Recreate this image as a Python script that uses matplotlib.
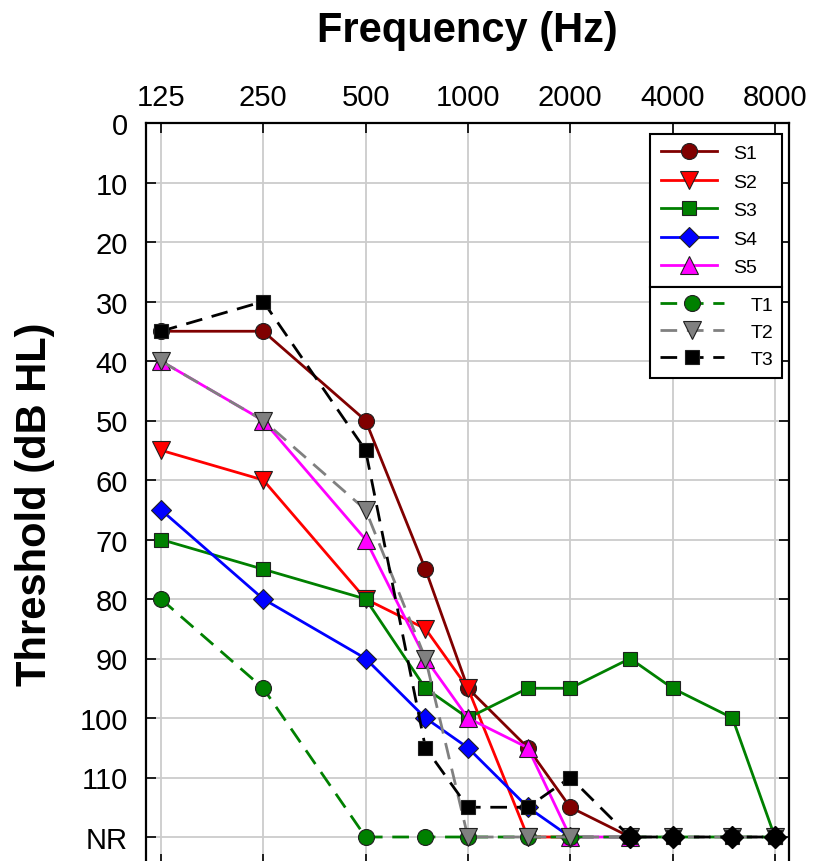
import matplotlib
matplotlib.use("Agg")
import matplotlib.pyplot as plt
import numpy as np

plt.rcParams['font.family'] = ['Liberation Sans', 'DejaVu Sans']

freqs = [125, 250, 500, 750, 1000, 1500, 2000, 3000, 4000, 6000, 8000]
tick_freqs = [125, 250, 500, 1000, 2000, 4000, 8000]
tick_labels = ['125', '250', '500', '1000', '2000', '4000', '8000']
y_ticks = [0, 10, 20, 30, 40, 50, 60, 70, 80, 90, 100, 110, 120]
y_labels = ['0', '10', '20', '30', '40', '50', '60', '70', '80', '90', '100', '110', 'NR']

N = None
S1 = [35, 35, 50, 75, 95, 105, 115, 120, N, N, N]
S2 = [55, 60, 80, 85, 95, 120, 120, N, N, N, N]
S3 = [70, 75, 80, 95, 100, 95, 95, 90, 95, 100, 120]
S4 = [65, 80, 90, 100, 105, 115, 120, N, N, N, N]
S5 = [40, 50, 70, 90, 100, 105, 120, 120, N, N, N]
T1 = [80, 95, 120, 120, 120, 120, 120, 120, 120, 120, 120]
T2 = [40, 50, 65, 90, 120, 120, 120, 120, 120, 120, 120]
T3 = [35, 30, 55, 105, 115, 115, 110, 120, 120, 120, 120]

def arr(v):
    return np.array([np.nan if x is None else x for x in v], dtype=float)

W, H = 813, 862
fig = plt.figure(figsize=(W / 100, H / 100), dpi=100)
left, right, top = 146, 789, 124
ymax = 124.5
px_per_db = 5.95
bottom_px = top + ymax * px_per_db
ax = fig.add_axes([left / W, 1 - bottom_px / H, (right - left) / W, (bottom_px - top) / H])

ax.set_xscale('log')
ax.set_xlim(113, 8800)
ax.set_ylim(ymax, 0)
ax.set_xticks(tick_freqs)
ax.set_xticklabels(tick_labels)
ax.xaxis.set_minor_locator(matplotlib.ticker.NullLocator())
ax.set_yticks(y_ticks)
ax.set_yticklabels(y_labels)
ax.xaxis.tick_top()
ax.tick_params(axis='x', which='both', top=True, bottom=True, labeltop=True, labelbottom=False,
               direction='in', length=7, width=1.2, labelsize=21, pad=9)
ax.tick_params(axis='y', left=True, right=True, direction='in', length=7, width=1.2,
               labelsize=21, pad=13)
ax.grid(True, color='#cccccc', linewidth=1.3)
ax.set_axisbelow(True)
for s in ax.spines.values():
    s.set_linewidth(1.6)

x = np.array(freqs, dtype=float)
mec = '#202020'
LW = 2.0
styles = [
    ('S1', S1, '#800000', 'o', 11.5, '-'),
    ('S2', S2, '#ff0000', 'v', 12.5, '-'),
    ('S3', S3, '#008000', 's', 10.5, '-'),
    ('S4', S4, '#0000ff', 'D', 10.5, '-'),
    ('S5', S5, '#ff00ff', '^', 12.5, '-'),
]
t_styles = [
    ('T1', T1, '#008000', 'o', 11.5, (0, (6, 3.5))),
    ('T2', T2, '#808080', 'v', 12.5, (0, (6, 3.5))),
    ('T3', T3, '#000000', 's', 10.5, (0, (6, 3.5))),
]
s_handles = []
for name, vals, col, mk, ms, ls in styles:
    y = arr(vals)
    m = ~np.isnan(y)
    h, = ax.plot(x[m], y[m], color=col, linestyle=ls, linewidth=LW, marker=mk, markersize=ms,
                 markerfacecolor=col, markeredgecolor=mec, markeredgewidth=0.8, label=name,
                 clip_on=False)
    s_handles.append(h)
t_handles = []
for name, vals, col, mk, ms, ls in t_styles:
    y = arr(vals)
    m = ~np.isnan(y)
    h, = ax.plot(x[m], y[m], color=col, linestyle=ls, linewidth=LW, marker=mk, markersize=ms,
                 markerfacecolor=col, markeredgecolor=mec, markeredgewidth=0.8, label=name,
                 clip_on=False)
    t_handles.append(h)

# overlapping black markers at NR for the highest frequencies
y3 = arr(T3)
hi = (x >= 3000) & (y3 >= 120)
ax.plot(x[hi], y3[hi], linestyle='none', marker='D', markersize=11, color='black',
        markeredgecolor='black', clip_on=False)

leg_x0 = 650 / W
leg_w = (782 - 650) / W
leg1 = ax.legend(handles=s_handles, loc='upper left', bbox_to_anchor=(leg_x0, 1 - 135 / H, leg_w, 0.0001),
                 bbox_transform=fig.transFigure, mode='expand', fontsize=14, frameon=True,
                 fancybox=False, edgecolor='black', framealpha=1, handlelength=2.9,
                 handletextpad=0.8, labelspacing=0.56, borderpad=0.55, borderaxespad=0)
leg1.get_frame().set_linewidth(1.5)
ax.add_artist(leg1)
fig.canvas.draw()
bb = leg1.get_window_extent()
y_bot = bb.y0 / (H)
leg2 = ax.legend(handles=t_handles, loc='upper left', bbox_to_anchor=(leg_x0, y_bot, leg_w, 0.0001),
                 bbox_transform=fig.transFigure, mode='expand', fontsize=14, frameon=True,
                 fancybox=False, edgecolor='black', framealpha=1, handlelength=3.3,
                 handletextpad=1.4, labelspacing=0.48, borderpad=0.5, borderaxespad=0)
leg2.get_frame().set_linewidth(1.5)

fig.text(467 / W, 1 - 31 / H, 'Frequency (Hz)', ha='center', va='center', fontsize=30,
         fontweight='bold')
fig.text(35 / W, 1 - 504 / H, 'Threshold (dB HL)', ha='center', va='center', fontsize=30,
         fontweight='bold', rotation=90)

fig.savefig('out.png', dpi=100)
